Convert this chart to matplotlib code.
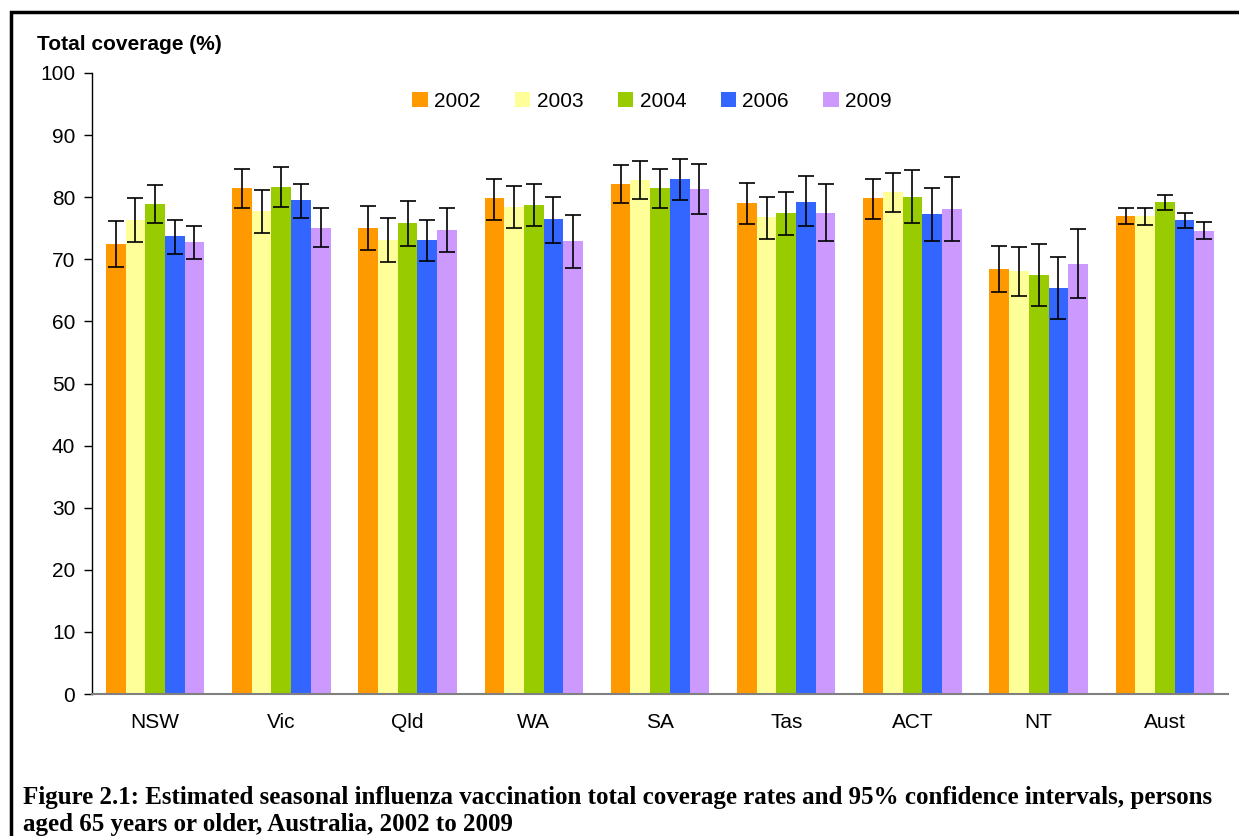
import matplotlib
matplotlib.use("Agg")
import matplotlib.pyplot as plt
from matplotlib.patches import Rectangle
import numpy as np

regions = ["NSW", "Vic", "Qld", "WA", "SA", "Tas", "ACT", "NT", "Aust"]
years = ["2002", "2003", "2004", "2006", "2009"]

# coverage (%) per year, one value per region
cov_2002 = [72.5, 81.5, 75.0, 79.9, 82.1, 79.1, 79.9, 68.4, 77.0]
cov_2003 = [76.3, 77.8, 73.1, 78.4, 82.8, 76.8, 80.8, 68.1, 77.0]
cov_2004 = [78.9, 81.6, 75.8, 78.7, 81.5, 77.5, 80.0, 67.5, 79.2]
cov_2006 = [73.8, 79.5, 73.1, 76.5, 82.9, 79.3, 77.3, 65.4, 76.3]
cov_2009 = [72.8, 75.0, 74.7, 72.9, 81.3, 77.5, 78.1, 69.2, 74.6]

# 95% CI lower / upper
lo_2002 = [68.8, 78.3, 71.5, 76.4, 79.0, 75.7, 76.5, 64.7, 75.7]
hi_2002 = [76.1, 84.6, 78.6, 83.0, 85.2, 82.3, 83.0, 72.2, 78.2]
lo_2003 = [72.8, 74.3, 69.5, 75.1, 79.7, 73.3, 77.6, 64.1, 75.6]
hi_2003 = [79.8, 81.1, 76.7, 81.8, 85.9, 80.1, 83.9, 72.0, 78.2]
lo_2004 = [75.9, 78.4, 72.2, 75.4, 78.2, 73.9, 75.8, 62.5, 78.0]
hi_2004 = [81.9, 84.8, 79.4, 82.1, 84.6, 80.9, 84.3, 72.4, 80.4]
lo_2006 = [70.9, 76.6, 69.8, 72.7, 79.5, 75.4, 73.0, 60.4, 75.0]
hi_2006 = [76.4, 82.2, 76.4, 80.1, 86.1, 83.4, 81.5, 70.3, 77.5]
lo_2009 = [70.0, 72.0, 71.1, 68.6, 77.3, 72.9, 72.9, 63.8, 73.3]
hi_2009 = [75.4, 78.2, 78.2, 77.2, 85.4, 82.1, 83.2, 74.8, 76.0]

values = [cov_2002, cov_2003, cov_2004, cov_2006, cov_2009]
lows = [lo_2002, lo_2003, lo_2004, lo_2006, lo_2009]
highs = [hi_2002, hi_2003, hi_2004, hi_2006, hi_2009]
colors = ["#FF9900", "#FFFF99", "#99CC00", "#3366FF", "#CC99FF"]

plt.rcParams["font.family"] = ["Liberation Sans", "DejaVu Sans"]

fig = plt.figure(figsize=(12.39, 8.36), dpi=100)
W, H = 1239, 836
ax = fig.add_axes([92 / W, 1 - 694 / H, (1228 - 92) / W, (694 - 73) / H])

x = np.arange(len(regions))
bw = 0.156
for i, (yr, v, lo, hi, c) in enumerate(zip(years, values, lows, highs, colors)):
    pos = x + (i - 2) * bw
    v = np.array(v)
    err = [v - np.array(lo), np.array(hi) - v]
    ax.bar(pos, v, width=bw, color=c, label=yr, zorder=2)
    ax.errorbar(pos, v, yerr=err, fmt="none", ecolor="black", elinewidth=1.2,
                capsize=6, capthick=1.2, zorder=3)

ax.set_xlim(-0.5, len(regions) - 0.5)
ax.set_ylim(0, 100)
ax.set_yticks(range(0, 101, 10))
ax.set_xticks(x)
ax.set_xticklabels(regions)
ax.tick_params(axis="y", direction="out", length=6, width=1, labelsize=15, pad=6)
ax.tick_params(axis="x", length=0, labelsize=15, pad=14)
for s in ["top", "right"]:
    ax.spines[s].set_visible(False)
ax.spines["left"].set_linewidth(1)
ax.spines["bottom"].set_color("#808080")
ax.spines["bottom"].set_linewidth(1.5)

leg = ax.legend(loc="upper center", bbox_to_anchor=(0.493, 1.0), ncol=5, frameon=False,
                fontsize=15, handlelength=0.75, handleheight=0.75, handletextpad=0.3,
                columnspacing=1.65)

fig.text(37 / W, 1 - 45 / H, "Total coverage (%)", fontsize=15, fontweight="bold",
         va="center", ha="left")

cap = ("Figure 2.1: Estimated seasonal influenza vaccination total coverage rates and 95% confidence intervals, persons\n"
       "aged 65 years or older, Australia, 2002 to 2009")
fig.text(23 / W, 1 - 811 / H, cap, fontsize=18, fontweight="bold", va="center", ha="left",
         family=["Liberation Serif", "DejaVu Serif"], linespacing=1.2)

fig.add_artist(Rectangle((11 / W, -0.1), 1.2, 1 - 12 / H + 0.1, transform=fig.transFigure,
                         fill=False, edgecolor="black", linewidth=2.5))

fig.savefig("out.png", dpi=100)
